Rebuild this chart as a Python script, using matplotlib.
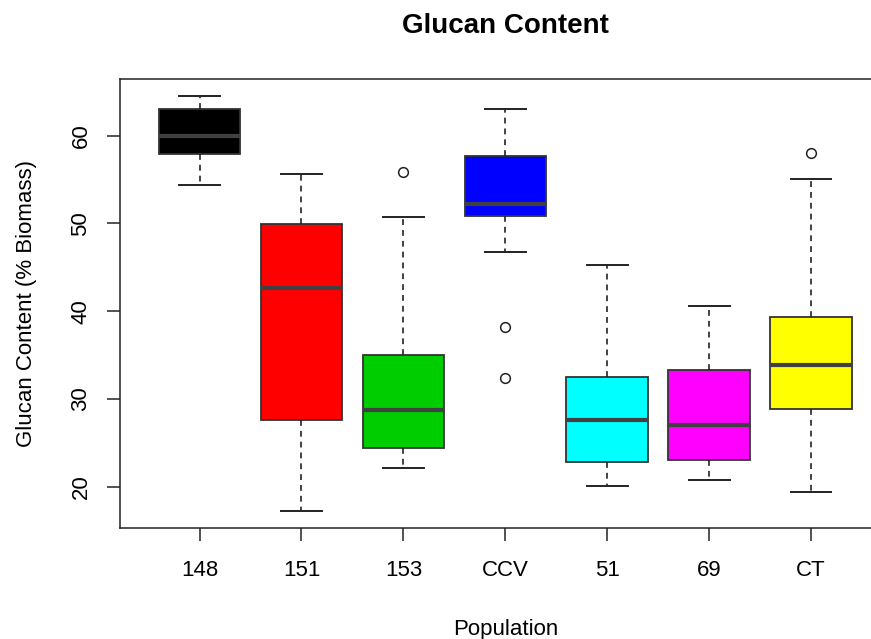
import matplotlib
matplotlib.use("Agg")
import matplotlib.pyplot as plt

plt.rcParams['font.family'] = ['Liberation Sans', 'DejaVu Sans']

# population groups and box statistics
populations = ['148', '151', '153', 'CCV', '51', '69', 'CT']
colors = ['#000000', '#FF0000', '#00CD00', '#0000FF', '#00FFFF', '#FF00FF', '#FFFF00']
medians = [60.0, 42.6, 28.7, 52.2, 27.6, 27.05, 33.9]
q1 = [57.95, 27.6, 24.4, 50.9, 22.8, 23.1, 28.9]
q3 = [63.0, 49.9, 35.0, 57.7, 32.5, 33.35, 39.3]
whislo = [54.4, 17.3, 22.1, 46.75, 20.15, 20.8, 19.45]
whishi = [64.5, 55.6, 50.75, 63.0, 45.3, 40.65, 55.1]
outliers = [[], [], [55.9], [38.2, 32.4], [], [], [58.0]]

stats = []
for i, name in enumerate(populations):
    stats.append(dict(label=name, med=medians[i], q1=q1[i], q3=q3[i],
                      whislo=whislo[i], whishi=whishi[i], fliers=outliers[i]))

fig = plt.figure(figsize=(8.71, 6.39), dpi=100)
ax = fig.add_axes([0.1378, 0.1742, 0.8847, 0.7022])

bp = ax.bxp(stats, positions=range(1, 8), widths=0.8, patch_artist=True,
            boxprops=dict(edgecolor='#333333', linewidth=1.3),
            medianprops=dict(color='#404040', linewidth=3.0, solid_capstyle='butt'),
            whiskerprops=dict(color='#222222', linewidth=1.2, linestyle=(0, (3.5, 3))),
            capprops=dict(color='#222222', linewidth=1.4),
            flierprops=dict(marker='o', markersize=7, markerfacecolor='none',
                            markeredgecolor='#222222', markeredgewidth=1.1))
for patch, c in zip(bp['boxes'], colors):
    patch.set_facecolor(c)
for cap in bp['caps']:
    x0, x1 = cap.get_xdata()
    mid = (x0 + x1) / 2
    cap.set_xdata([mid - 0.2, mid + 0.2])

ax.set_xlim(0.22, 7.78)
ax.set_ylim(15.35, 66.46)
ax.set_yticks([20, 30, 40, 50, 60])
ax.set_xticks(range(1, 8))
ax.set_xticklabels(populations)
for lbl in ax.get_yticklabels():
    lbl.set_rotation(90)
    lbl.set_va('center')

ax.tick_params(axis='both', length=9.5, width=1.1, color='#222222', labelsize=16)
ax.tick_params(axis='x', pad=14)
ax.tick_params(axis='y', pad=11)
for s in ax.spines.values():
    s.set_linewidth(1.1)
    s.set_color('#222222')

ax.set_xlabel('Population', fontsize=16, labelpad=27)
ax.set_ylabel('Glucan Content (% Biomass)', fontsize=16, labelpad=24)
ax.set_title('Glucan Content', fontsize=20, fontweight='bold', pad=33)

fig.savefig('out.png', dpi=100)
